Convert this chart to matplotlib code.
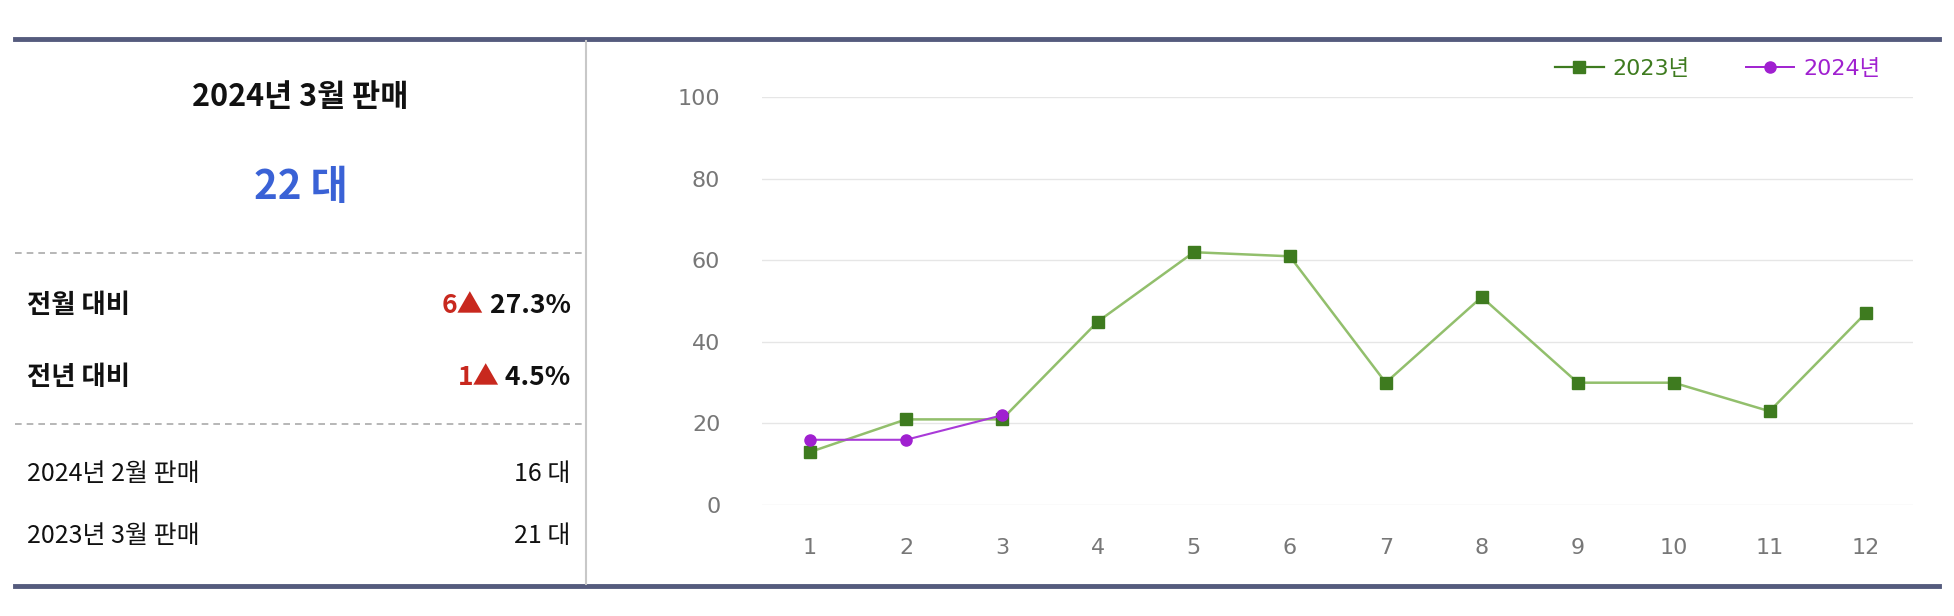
import matplotlib
matplotlib.use("Agg")
import matplotlib.pyplot as plt
from matplotlib.lines import Line2D

plt.rcParams['font.family'] = ['Noto Sans CJK KR', 'DejaVu Sans']

months = list(range(1, 13))
sales_2023 = [13, 21, 21, 45, 62, 61, 30, 51, 30, 30, 23, 47]
months_2024 = [1, 2, 3]
sales_2024 = [16, 16, 22]
yticks = [0, 20, 40, 60, 80, 100]

W, H = 1568, 494
fig = plt.figure(figsize=(19.54, 6.16), dpi=100)
def fx(x): return x / W
def fy(y): return 1 - y / H

for y in (31, 470):
    fig.add_artist(Line2D([fx(12), fx(1556)], [fy(y), fy(y)], color='#555b7d', lw=3.5))
fig.add_artist(Line2D([fx(470), fx(470)], [fy(33), fy(468)], color='#c8c8c8', lw=1.5))
for y in (203, 340):
    fig.add_artist(Line2D([fx(12), fx(470)], [fy(y), fy(y)], color='#aaaaaa', lw=1.2, ls=(0, (4, 3))))

fig.text(fx(241), fy(78), '2024년 3월 판매', ha='center', va='center', fontsize=22, fontweight='bold', color='#111111')
fig.text(fx(241), fy(150), '22 대', ha='center', va='center', fontsize=29, fontweight='bold', color='#3a62d6')

fig.canvas.draw()
r = fig.canvas.get_renderer()
def right_pair(y, red, black, size):
    t = fig.text(fx(458), fy(y), black, ha='right', va='center', fontsize=size, fontweight='bold', color='#111111')
    bb = t.get_window_extent(renderer=r)
    fig.text(bb.x0 / fig.bbox.width, fy(y), red, ha='right', va='center', fontsize=size, fontweight='bold', color='#c8281e')

fig.text(fx(22), fy(245), '전월 대비', ha='left', va='center', fontsize=19, fontweight='bold', color='#111111')
right_pair(245, '6▲', ' 27.3%', 19)
fig.text(fx(22), fy(303), '전년 대비', ha='left', va='center', fontsize=19, fontweight='bold', color='#111111')
right_pair(303, '1▲', ' 4.5%', 19)

fig.text(fx(22), fy(380), '2024년 2월 판매', ha='left', va='center', fontsize=18, color='#111111')
fig.text(fx(458), fy(380), '16 대', ha='right', va='center', fontsize=18, color='#111111')
fig.text(fx(22), fy(430), '2023년 3월 판매', ha='left', va='center', fontsize=18, color='#111111')
fig.text(fx(458), fy(430), '21 대', ha='right', va='center', fontsize=18, color='#111111')

x0, x1 = 611.5, 1535.5
y100, y0 = 78, 405
ax = fig.add_axes([fx(x0), fy(y0), fx(x1) - fx(x0), fy(y100) - fy(y0)])
ax.set_xlim(0.5, 12.5)
ax.set_ylim(0, 100)
for s in ax.spines.values():
    s.set_visible(False)
ax.set_yticks(yticks)
ax.set_xticks(months)
ax.grid(axis='y', color='#e6e6e6', lw=1)
ax.tick_params(length=0, labelsize=16, labelcolor='#777777')
ax.tick_params(axis='x', pad=24)
ax.tick_params(axis='y', pad=30)
for lab in ax.get_xticklabels() + ax.get_yticklabels():
    lab.set_fontfamily('DejaVu Sans')
ax.plot(months, sales_2023, color='#92bf6c', lw=1.8, zorder=3)
ax.plot(months, sales_2023, ls='none', marker='s', ms=8, color='#3e7b1f', zorder=4, clip_on=False)
ax.plot(months_2024, sales_2024, color='#a93ad8', lw=1.5, zorder=5)
ax.plot(months_2024, sales_2024, ls='none', marker='o', ms=8, color='#a020d0', zorder=6, clip_on=False)

h1 = Line2D([], [], color='#3e7b1f', marker='s', ms=8, lw=1.6)
h2 = Line2D([], [], color='#a020d0', marker='o', ms=8, lw=1.4)
leg = fig.legend([h1, h2], ['2023년', '2024년'], loc='center right', bbox_to_anchor=(fx(1525), fy(55)),
                 ncol=2, frameon=False, handlelength=2.2, columnspacing=2.5, handletextpad=0.4,
                 prop={'family': ['DejaVu Sans', 'Noto Sans CJK KR'], 'size': 16})
for t, c in zip(leg.get_texts(), ['#3e7b1f', '#a020d0']):
    t.set_color(c)

fig.savefig('out.png', dpi=100, facecolor='white')
